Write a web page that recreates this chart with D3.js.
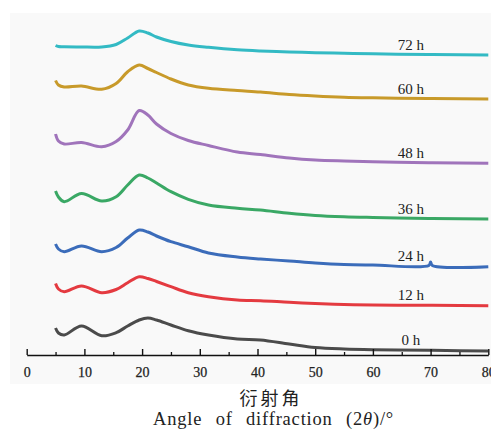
<!DOCTYPE html>
<html>
<head>
<meta charset="utf-8">
<script src="https://cdn.jsdelivr.net/npm/d3@7"></script>
<style>
  html, body { margin: 0; padding: 0; background: #fff; }
  svg { display: block; }
</style>
</head>
<body>
<div id="container"></div>
<script>
const angles = [5, 5.5, 6.5, 9.5, 13, 15.5, 17.5, 19.5, 21, 22.5, 25, 28, 31.5, 36.5, 40.5, 45.5, 50, 55, 60, 69.7, 70, 70.3, 80];

// intensity (a.u., stacked offsets included)
const h0  = [27, 22, 20, 29, 19.3, 22.3, 29, 35, 37, 35, 30, 24.3, 20, 16, 15, 11, 7.5, 6, 5.3, 4.7, 4.7, 4.7, 4];
const h12 = [71.5, 66, 63.3, 69, 62.3, 65.5, 72.3, 78.3, 76.5, 73.5, 68.3, 62.3, 58.3, 55, 54.3, 52.7, 51.5, 50.5, 50, 49.7, 49.7, 49.7, 49.3];
const h24 = [111, 106, 103.3, 109, 103.3, 107.5, 117, 125, 123, 119, 113.3, 108.3, 102, 98, 96, 94, 92, 90.5, 90, 89.5, 93, 89.5, 88.3];
const h36 = [164, 158, 153.3, 161.5, 154, 158.3, 170, 180, 177, 172, 163.3, 155.7, 150, 146.7, 145, 141.7, 139.5, 138.2, 137.5, 136.5, 136.5, 136.5, 136];
const h48 = [221, 214, 211, 212.5, 208.3, 213.5, 225, 244.5, 240, 231, 221.5, 214.5, 209.5, 203, 200.5, 197, 195, 194, 193.3, 192.3, 192.3, 192.3, 191.7];
const h60 = [274.5, 270, 268, 269, 265.7, 271.5, 283.3, 290, 286.5, 282.5, 276, 270, 266.7, 264.5, 263, 260.5, 259, 257.8, 257.2, 256.5, 256.5, 256.5, 256];
const h72 = [309.5, 308.5, 308.3, 308, 308, 310.5, 317, 324, 322, 318, 313.5, 310, 307.7, 305.2, 304, 303, 302.3, 301.7, 301.2, 300.5, 300.5, 300.5, 300];

const seriesNames = ["0 h", "12 h", "24 h", "36 h", "48 h", "60 h", "72 h"];
const seriesValues = [h0, h12, h24, h36, h48, h60, h72];
const colors = ["#4b4b4b", "#e43a40", "#3b6cba", "#3aa865", "#a074bb", "#c89a2a", "#33bac4"];

const xTicks = [0, 10, 20, 30, 40, 50, 60, 70, 80];
const xMinorTicks = [5, 15, 25, 35, 45, 55, 65, 75];

const W = 491, H = 430;
const serif = "'Liberation Serif', 'DejaVu Serif', serif";

const svg = d3.select("#container")
    .append("svg")
    .attr("width", W)
    .attr("height", H);

// light panel behind the plot
svg.append("rect")
    .attr("x", 10).attr("y", 13)
    .attr("width", W - 10).attr("height", 371)
    .attr("fill", "#f9f9f9");

const x = d3.scaleLinear().domain([0, 80]).range([26.7, 488.3]);
const y = d3.scaleLinear().domain([0, 342]).range([355, 13]);

const line = d3.line()
    .x(d => x(d[0]))
    .y(d => y(d[1]))
    .curve(d3.curveCatmullRom.alpha(0.5));

// curves
seriesValues.forEach((vals, i) => {
    const pts = angles.map((a, j) => [a, vals[j]]);
    svg.append("path")
        .datum(pts)
        .attr("fill", "none")
        .attr("stroke", colors[i])
        .attr("stroke-width", 3)
        .attr("stroke-linejoin", "round")
        .attr("d", line);

    // label sits just above the tail of the curve
    svg.append("text")
        .attr("x", x(66.6))
        .attr("y", y(vals[angles.indexOf(69.7)]) - 5)
        .attr("text-anchor", "middle")
        .attr("font-family", serif)
        .attr("font-size", 15)
        .attr("fill", "#222")
        .text(seriesNames[i]);
});

// x axis: major ticks with labels, pointing up
const axisG = svg.append("g")
    .attr("transform", `translate(0,355)`)
    .call(d3.axisBottom(x)
        .tickValues(xTicks)
        .tickSizeInner(-6)
        .tickSizeOuter(0)
        .tickPadding(12)
        .tickFormat(d3.format("d")));

axisG.select(".domain").attr("stroke", "#111").attr("stroke-width", 1.4);
axisG.selectAll(".tick line").attr("stroke", "#111").attr("stroke-width", 1.4);
axisG.selectAll(".tick text")
    .attr("font-family", serif)
    .attr("font-size", 14)
    .attr("stroke", "#222")
    .attr("stroke-width", 0.25)
    .attr("fill", "#222");

// minor ticks
const minorG = svg.append("g")
    .attr("transform", `translate(0,355)`)
    .call(d3.axisBottom(x)
        .tickValues(xMinorTicks)
        .tickSizeInner(-3)
        .tickSizeOuter(0)
        .tickFormat(""));
minorG.select(".domain").remove();
minorG.selectAll(".tick line").attr("stroke", "#111").attr("stroke-width", 1.3);

// axis titles
svg.append("text")
    .attr("x", 271)
    .attr("y", 405)
    .attr("text-anchor", "middle")
    .attr("font-family", "'Noto Sans CJK SC', sans-serif")
    .attr("font-size", 18)
    .attr("letter-spacing", 3)
    .attr("fill", "#222")
    .text("衍射角");

const en = svg.append("text")
    .attr("x", 153)
    .attr("y", 425)
    .attr("font-family", serif)
    .attr("font-size", 18.5)
    .attr("letter-spacing", 0.8)
    .attr("word-spacing", 8)
    .attr("fill", "#222");
en.append("tspan").text("Angle of diffraction (2");
en.append("tspan").attr("font-style", "italic").text("θ");
en.append("tspan").text(")/°");
</script>
</body>
</html>
